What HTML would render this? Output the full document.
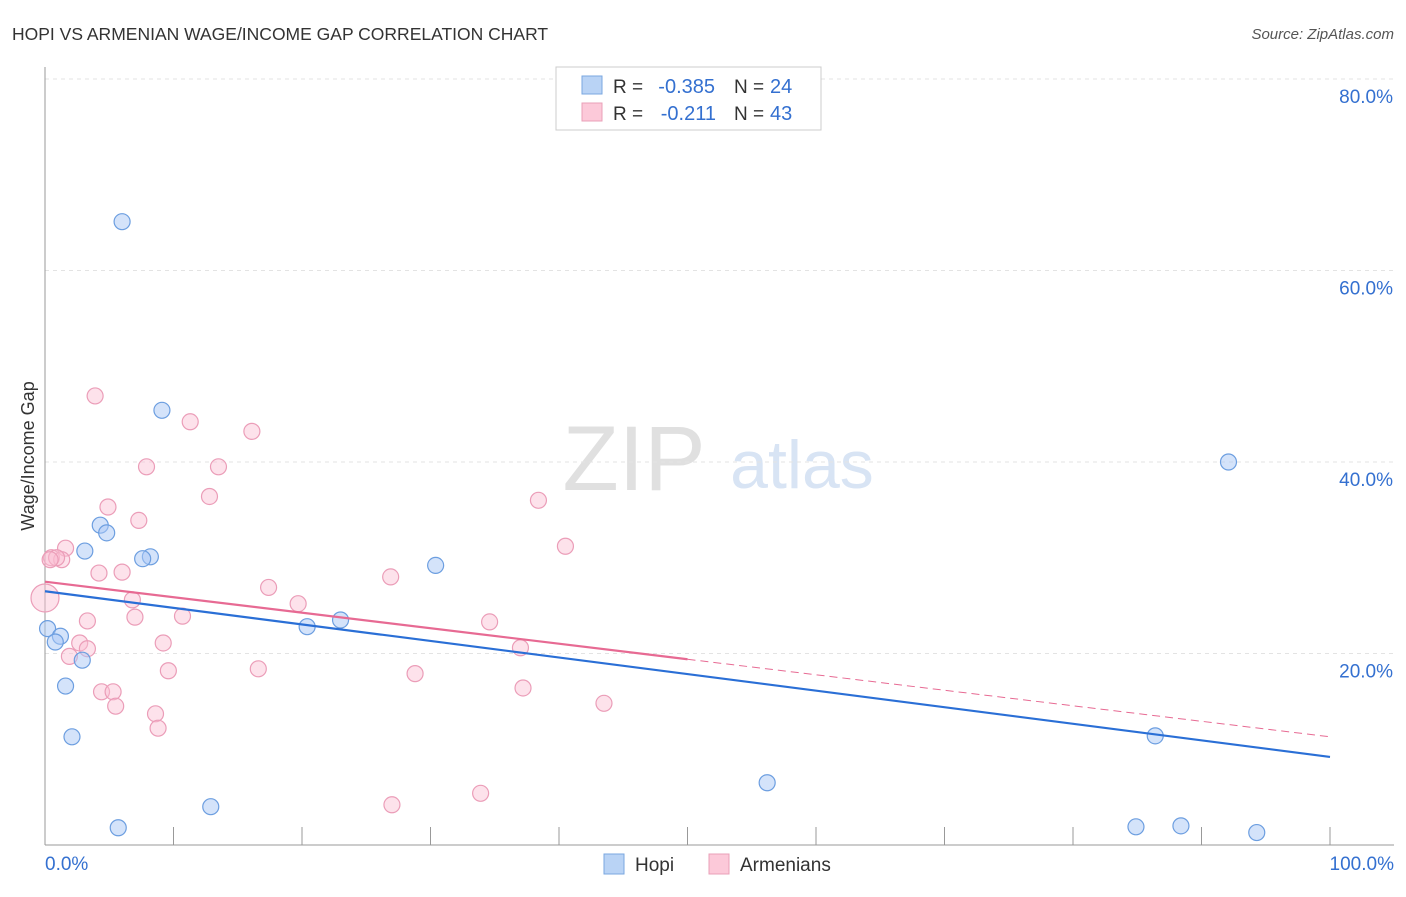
<!DOCTYPE html>
<html><head><meta charset="utf-8"><style>
body{margin:0;background:#fff;font-family:"Liberation Sans",sans-serif;}
svg text{font-family:"Liberation Sans",sans-serif;}
</style></head><body>
<svg id="c" width="1406" height="892">
<text x="12" y="40" font-size="17.5" fill="#333">HOPI VS ARMENIAN WAGE/INCOME GAP CORRELATION CHART</text>
<text x="1394" y="39" font-size="15" fill="#555" text-anchor="end" font-style="italic">Source: ZipAtlas.com</text>
<text x="634" y="490" font-size="92" fill="#e0e0e0" font-family="Liberation Serif" text-anchor="middle">ZIP</text>
<text x="802" y="488" font-size="68" fill="#d8e4f4" text-anchor="middle">atlas</text>
<g id="grid"></g><g id="axes"></g><g id="marks"></g>
<text transform="translate(34,456) rotate(-90)" font-size="18" fill="#333" text-anchor="middle">Wage/Income Gap</text>
<g>
<rect x="556" y="67" width="265" height="63" fill="#fff" stroke="#ccc"/>
<rect x="582" y="76" width="20" height="18" fill="#b9d3f5" stroke="#7aa7e0"/>
<rect x="582" y="103" width="20" height="18" fill="#fcc9d9" stroke="#eaa0b8"/>
<text x="613" y="93" font-size="19" fill="#333">R =</text>
<text x="715" y="93" font-size="20" fill="#3470d0" text-anchor="end">-0.385</text>
<text x="734" y="93" font-size="19" fill="#333">N =</text>
<text x="770" y="93" font-size="20" fill="#3470d0">24</text>
<text x="613" y="120" font-size="19" fill="#333">R =</text>
<text x="716" y="120" font-size="20" fill="#3470d0" text-anchor="end">-0.211</text>
<text x="734" y="120" font-size="19" fill="#333">N =</text>
<text x="770" y="120" font-size="20" fill="#3470d0">43</text>
</g>
<g>
<rect x="604" y="854" width="20" height="20" fill="#b9d3f5" stroke="#7aa7e0"/>
<text x="635" y="871" font-size="19" fill="#333">Hopi</text>
<rect x="709" y="854" width="20" height="20" fill="#fcc9d9" stroke="#eaa0b8"/>
<text x="740" y="871" font-size="19" fill="#333">Armenians</text>
</g>
</svg>
<script>
const hopiX=[6.0,9.1,4.3,4.8,3.1,8.2,7.6,30.4,0.2,1.2,0.8,20.4,23.0,2.9,1.6,2.1,12.9,5.7,56.2,86.4,92.1,84.9,88.4,94.3];
const hopiY=[65.1,45.4,33.4,32.6,30.7,30.1,29.9,29.2,22.6,21.8,21.2,22.8,23.5,19.3,16.6,11.3,4.0,1.8,6.5,11.4,40.0,1.9,2.0,1.3];
const armX=[3.9,11.3,16.1,7.9,13.5,12.8,38.4,4.9,7.3,40.5,1.6,0.5,1.3,0.9,4.2,6.0,26.9,17.4,0,6.8,19.7,7.0,10.7,3.3,34.6,2.7,9.2,3.3,1.9,37.0,9.6,16.6,28.8,4.4,5.3,37.2,5.5,43.5,8.6,8.8,27.0,33.9,0.4];
const armY=[46.9,44.2,43.2,39.5,39.5,36.4,36.0,35.3,33.9,31.2,31.0,30.0,29.8,30.0,28.4,28.5,28.0,26.9,25.8,25.6,25.2,23.8,23.9,23.4,23.3,21.1,21.1,20.5,19.7,20.6,18.2,18.4,17.9,16.0,16.0,16.4,14.5,14.8,13.7,12.2,4.2,5.4,29.8];
const yTicks=[20,40,60,80];
const yTickLabels=["20.0%","40.0%","60.0%","80.0%"];
const hopiLine=[26.5,9.2];
const armLine=[27.5,11.3];
const armSolidEnd=50;
const sx=v=>45+v*12.85, sy=v=>845-v*9.575;
const NS="http://www.w3.org/2000/svg";
function mk(p,t,a){const e=document.createElementNS(NS,t);for(const k in a)e.setAttribute(k,a[k]);p.appendChild(e);return e;}
const grid=document.getElementById('grid'),axes=document.getElementById('axes'),marks=document.getElementById('marks');
yTicks.forEach((t,i)=>{
 const l=mk(grid,'line',{x1:45,x2:1394,y1:sy(t),y2:sy(t),stroke:'#e3e3e3','stroke-dasharray':'4,4'});
 
 
 const tx=mk(axes,'text',{x:1393,y:sy(t)+24,'font-size':19,fill:'#3470d0','text-anchor':'end'});tx.textContent=yTickLabels[i];
 
 
});
const ax=mk(axes,'line',{x1:45,x2:1394,y1:845,y2:845,stroke:'#999'});


const ay=mk(axes,'line',{x1:45,x2:45,y1:67,y2:845,stroke:'#999'});


for(let i=1;i<=10;i++){const t=mk(axes,'line',{x1:sx(i*10),x2:sx(i*10),y1:827,y2:845,stroke:'#999'});
 
 }
[[0,"0.0%","start",45],[100,"100.0%","end",1394]].forEach(d=>{const t=mk(axes,'text',{x:d[3],y:870,'font-size':19,fill:'#3470d0','text-anchor':d[2]});t.textContent=d[1];
 
 });
armX.forEach((x,i)=>{const c=mk(marks,'circle',{cx:sx(x),cy:sy(armY[i]),r:i==18?14:8,fill:'rgba(250,190,210,0.45)',stroke:'#eb9db8','stroke-width':1.2});
 
 });
hopiX.forEach((x,i)=>{const c=mk(marks,'circle',{cx:sx(x),cy:sy(hopiY[i]),r:8,fill:'rgba(170,200,245,0.5)',stroke:'#6c9ee0','stroke-width':1.2});
 
 });
const hl=mk(marks,'line',{x1:sx(0),y1:sy(hopiLine[0]),x2:sx(100),y2:sy(hopiLine[1]),stroke:'#2a6fd6','stroke-width':2.2});


const ym=armLine[0]+(armLine[1]-armLine[0])*armSolidEnd/100;
const al=mk(marks,'line',{x1:sx(0),y1:sy(armLine[0]),x2:sx(armSolidEnd),y2:sy(ym),stroke:'#e76a93','stroke-width':2.2});


const ad=mk(marks,'line',{x1:sx(armSolidEnd),y1:sy(ym),x2:sx(100),y2:sy(armLine[1]),stroke:'#e76a93','stroke-width':1,'stroke-dasharray':'8,5'});


</script>
</body></html>
